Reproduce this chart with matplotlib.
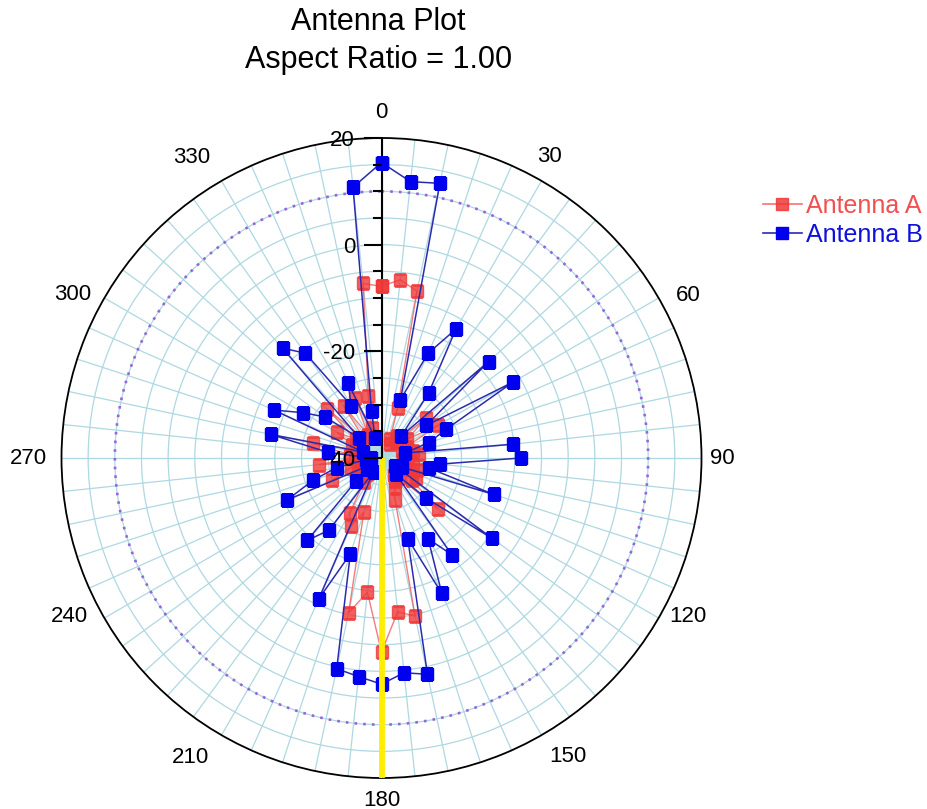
import numpy as np
import matplotlib
matplotlib.use("Agg")
import matplotlib.pyplot as plt
from matplotlib.lines import Line2D

plt.rcParams['font.family'] = ['Liberation Sans', 'DejaVu Sans']

# ---------------- data ----------------
angles_deg = list(range(0, 360, 6))

antenna_a = [-7.8, -6.4, -8.0, -30.2, -36.0, -37.0, -35.0, -36.0, -28.8, -34.0,
             -27.7, -35.0, -36.0, -34.0, -33.0, -35.0, -36.0, -34.0, -33.0, -35.0,
             -32.5, -33.0, -25.8, -35.0, -36.0, -35.0, -34.0, -31.7, -9.7, -11.0,
             -3.6, -14.7, -10.3, -29.3, -26.1, -28.0, -34.4, -36.0, -35.0, -36.0,
             -35.0, -29.9, -34.0, -36.0, -28.2, -35.0, -34.0, -26.9, -35.0, -34.0,
             -30.4, -34.0, -26.3, -35.0, -27.9, -35.0, -27.6, -34.0, -28.1, -7.1]

antenna_b = [15.4, 12.1, 12.65, -28.5, -18.5, -12.1, -25.0, -34.5, -13.0, -29.6,
             -11.5, -26.7, -30.7, -35.5, -15.3, -13.9, -29.0, -30.8, -17.9, -35.8,
             -37.0, -14.4, -28.7, -36.0, -17.6, -22.5, -12.2, -24.1, 1.45, 0.5,
             2.4, 1.2, 0.4, -21.1, -11.1, -37.0, -23.3, -19.2, -33.6, -36.6,
             -37.0, -20.6, -26.5, -31.4, -37.0, -38.0, -30.0, -18.8, -36.4, -17.9,
             -23.0, -26.9, -34.4, -12.3, -15.7, -28.7, -24.6, -36.0, -31.0, 11.05]

theta_tick_deg = [0, 30, 60, 90, 120, 150, 180, 210, 240, 270, 300, 330]
theta_labels = ['0', '30', '60', '90', '120', '150', '180', '210', '240', '270', '300', '330']
r_labels = ['-40', '-20', '0', '20']
r_label_values = [-40, -20, 0, 20]
r_min, r_max = -40, 20
ref_circle = 10
marker_line_angle = 180

# label placement around the rim (angle in deg, distance in px from centre)
label_pos = [(0, 346), (29.2, 345), (62, 347), (90, 341), (117.4, 345), (148, 352),
             (180, 342), (212.6, 355), (243, 350), (270, 353), (297.9, 349), (327.7, 356)]

# ---------------- figure ----------------
W, H = 927, 809
fig = plt.figure(figsize=(W / 100, H / 100), dpi=100)

cx_px, cy_px, rad_px = 381.5, 458.0, 320.0
left = (cx_px - rad_px) / W
bottom = (H - cy_px - rad_px) / H
ax = fig.add_axes([left, bottom, 2 * rad_px / W, 2 * rad_px / H], projection='polar')
ax.set_theta_zero_location('N')
ax.set_theta_direction(-1)
ax.set_ylim(r_min, r_max)

grid_col = '#aed8e2'
ax.set_yticks(np.arange(-35, 20, 5))
ax.set_yticklabels([])
ax.yaxis.grid(True, color=grid_col, lw=0.9)
ax.tick_params(axis='y', length=0)

ax.set_xticks(np.deg2rad(theta_tick_deg))
ax.set_xticklabels([''] * len(theta_tick_deg))
ax.set_xticks(np.deg2rad(np.arange(0, 360, 6)), minor=True)
ax.xaxis.grid(True, which='both', color=grid_col, lw=0.9)
ax.tick_params(axis='x', which='major', direction='out', length=6, width=1.2, colors='black')
ax.tick_params(axis='x', which='minor', direction='in', length=4, width=1.0, colors='black')
ax.spines['polar'].set_color('black')
ax.spines['polar'].set_linewidth(1.3)

for lab, (a, R) in zip(theta_labels, label_pos):
    ar = np.deg2rad(a)
    ax.text(0.5 + R * np.sin(ar) / (2 * rad_px), 0.5 + R * np.cos(ar) / (2 * rad_px), lab,
            transform=ax.transAxes, ha='center', va='center', fontsize=16, clip_on=False)

# reference dotted circle
tt = np.linspace(0, 2 * np.pi, 400)
ax.plot(tt, np.full_like(tt, ref_circle), color='#9466d8', lw=1.9, ls=(0, (1, 2.3)), zorder=2)

# radial axis line
ax.plot([0, 0], [r_min, r_max], color='black', lw=1.5, zorder=2.5)

th = np.deg2rad(angles_deg + [angles_deg[0]])
a_vals = antenna_a + [antenna_a[0]]
b_vals = antenna_b + [antenna_b[0]]

ax.plot(th, a_vals, color='#f05a5a', lw=1.0, marker='s', ms=8.5,
        markerfacecolor='#f03838', markeredgecolor='#f03838', alpha=0.8, zorder=3)
ax.plot(th, b_vals, color='#2a2ab0', lw=1.1, marker='s', ms=8.5,
        markerfacecolor='#0000ee', markeredgecolor='#0000ee', zorder=4)

# yellow line
ax.plot([np.deg2rad(marker_line_angle)] * 2, [r_min, r_max], color='#ffee00', lw=4.2, zorder=5,
        solid_capstyle='butt')

# radial tick axis overlay
axr = fig.add_axes([cx_px / W, (H - cy_px) / H, 0.0001, rad_px / H])
axr.patch.set_visible(False)
axr.set_ylim(r_min, r_max)
for s in ['top', 'right', 'bottom', 'left']:
    axr.spines[s].set_visible(False)
axr.set_xticks([])
axr.set_yticks(r_label_values)
axr.set_yticklabels(r_labels, fontsize=16)
axr.set_yticks(np.arange(-40, 21, 5), minor=True)
axr.tick_params(axis='y', which='major', direction='out', length=13, width=1.5, pad=6)
axr.tick_params(axis='y', which='minor', direction='out', length=6.5, width=1.5)
axr.set_zorder(ax.get_zorder() + 1)

# title
fig.text(378.5 / W, 1 - 22 / H, 'Antenna Plot', ha='center', va='center', fontsize=22)
fig.text(378.5 / W, 1 - 60 / H, 'Aspect Ratio = 1.00', ha='center', va='center', fontsize=22)

# legend
handles = [Line2D([0], [0], color='#f05a5a', lw=1.2, marker='s', ms=8,
                  markerfacecolor='#f03838', markeredgecolor='#f03838', alpha=0.85),
           Line2D([0], [0], color='#2a2ab0', lw=1.2, marker='s', ms=8,
                  markerfacecolor='#0000ee', markeredgecolor='#0000ee')]
leg = fig.legend(handles, ['Antenna A', 'Antenna B'], loc='upper left',
                 bbox_to_anchor=(763 / W, 1 - 194 / H), frameon=False, fontsize=18,
                 handlelength=1.55, handletextpad=0.15, labelspacing=0.2, borderaxespad=0,
                 borderpad=0)
leg.get_texts()[0].set_color('#f05050')
leg.get_texts()[1].set_color('#1010dd')

fig.savefig('out.png', dpi=100)
